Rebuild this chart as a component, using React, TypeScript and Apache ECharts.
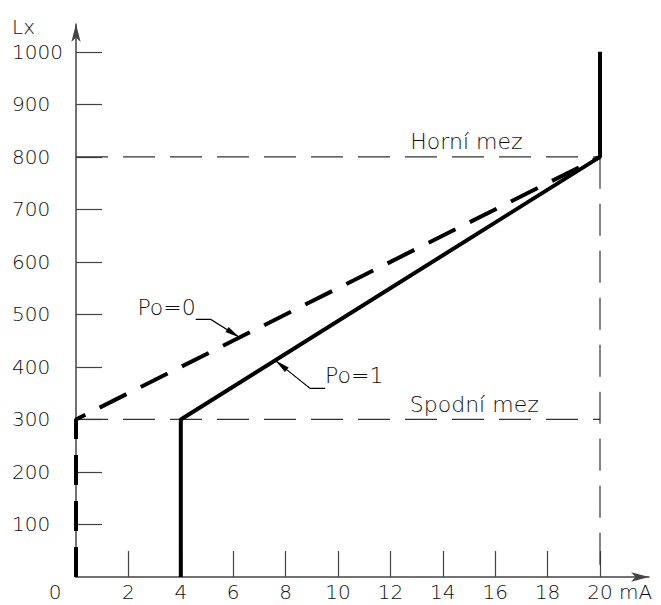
import React, { useEffect, useRef } from 'react';
import * as echarts from 'echarts';

// Axis ticks / labels
const xTickValues = [2, 4, 6, 8, 10, 12, 14, 16, 18, 20];
const yTickValues = [100, 200, 300, 400, 500, 600, 700, 800, 900, 1000];
const xMax = 21.87;
const yMax = 1053;

// Characteristic curves (x: mA, y: Lx)
const po0Line = [[0, 0], [0, 300], [20, 800]];
const po1Line = [[4, 0], [4, 300], [20, 800], [20, 1000]];

// Limit lines
const upperLimitLine = [[0, 800], [20, 800]];
const lowerLimitLine = [[0, 300], [20, 300]];
const rightLimitLine = [[20, 800], [20, 0]];

// Annotation anchors
const upperLabel = { text: 'Horní mez', at: [14.9, 800] };
const lowerLabel = { text: 'Spodní mez', at: [15.2, 300] };
const po0Pointer = { text: 'Po=0', at: [6.25, 456.25] };
const po1Pointer = { text: 'Po=1', at: [7.6, 412.5] };

const FONT = 'DejaVu Sans';
const TXT = '#111';
const AX = '#444';

export default function App() {
  const ref = useRef<HTMLDivElement>(null);
  useEffect(() => {
    if (!ref.current) return;
    const chart = echarts.init(ref.current, undefined, { renderer: 'svg' });
    const thinDash = { color: '#333', width: 1.2, type: [32, 15] as any };
    chart.setOption({
      animation: false,
      backgroundColor: '#fff',
      textStyle: { fontFamily: FONT, fontWeight: 200 },
      grid: { left: 76, right: 12, top: 24, bottom: 28 },
      xAxis: {
        type: 'value', min: 0, max: xMax, interval: 2,
        splitLine: { show: false },
        axisLine: { lineStyle: { color: AX, width: 1.5 }, symbol: ['none', 'arrow'], symbolSize: [7, 18] },
        axisTick: { show: true, inside: true, length: 26, customValues: xTickValues, lineStyle: { color: AX, width: 1.2 } },
        axisLabel: {
          customValues: xTickValues, color: TXT, fontSize: 20, lineHeight: 20, margin: 5,
          fontFamily: FONT, fontWeight: 200, formatter: (v: number) => String(v),
        },
      },
      yAxis: {
        type: 'value', min: 0, max: yMax, interval: 100,
        splitLine: { show: false },
        axisLine: { lineStyle: { color: AX, width: 1.5 }, symbol: ['none', 'arrow'], symbolSize: [7, 18] },
        axisTick: { show: true, inside: true, length: 26, customValues: yTickValues, lineStyle: { color: AX, width: 1.2 } },
        axisLabel: {
          customValues: yTickValues, color: TXT, fontSize: 20, margin: 64, align: 'left',
          fontFamily: FONT, fontWeight: 200, formatter: (v: number) => String(v),
        },
      },
      series: [
        { type: 'line', data: upperLimitLine, symbol: 'none', lineStyle: thinDash, z: 2 },
        { type: 'line', data: lowerLimitLine, symbol: 'none', lineStyle: thinDash, z: 2 },
        { type: 'line', data: rightLimitLine, symbol: 'none', lineStyle: thinDash, z: 2 },
        { type: 'line', data: po0Line, symbol: 'none', lineStyle: { color: '#000', width: 4, type: [30, 16] as any }, z: 3 },
        { type: 'line', data: po1Line, symbol: 'none', lineStyle: { color: '#000', width: 4 }, z: 4 },
      ],
    });

    const px = (p: number[]) => chart.convertToPixel({ gridIndex: 0 }, p) as number[];
    const origin = px([0, 0]);
    const x20 = px([20, 0]);
    const yTop = px([0, yMax]);
    const txt = (text: string, x: number, y: number, align: string, size = 20) => ({
      type: 'text', x, y, z: 10,
      style: { text, fill: TXT, font: `200 ${size}px "${FONT}"`, align, verticalAlign: 'middle' },
    });
    const arrowHead = (tip: number[], from: number[], len = 15, half = 3) => {
      const dx = from[0] - tip[0], dy = from[1] - tip[1];
      const d = Math.hypot(dx, dy);
      const ux = dx / d, uy = dy / d;
      const bx = tip[0] + ux * len, by = tip[1] + uy * len;
      return {
        type: 'polygon', z: 10,
        shape: { points: [tip, [bx - uy * half, by + ux * half], [bx + uy * half, by - ux * half]] },
        style: { fill: '#000' },
      };
    };
    const p0 = px(po0Pointer.at);
    const p0a = [p0[0] - 29, p0[1] - 18];
    const p0b = [p0a[0] - 15, p0a[1]];
    const p1 = px(po1Pointer.at);
    const p1a = [p1[0] + 35, p1[1] + 28];
    const p1b = [p1a[0] + 15, p1a[1]];
    const up = px(upperLabel.at);
    const lo = px(lowerLabel.at);

    chart.setOption({
      graphic: [
        txt('Lx', 12, yTop[1] + 3, 'left'),
        txt('0', origin[0] - 21, origin[1] + 15, 'center'),
        txt('mA', x20[0] + 19, x20[1] + 15, 'left'),
        txt(upperLabel.text, up[0], up[1] - 15, 'center', 22),
        txt(lowerLabel.text, lo[0], lo[1] - 15, 'center', 22),
        { type: 'polyline', z: 10, shape: { points: [p0b, p0a, p0] }, style: { stroke: '#000', lineWidth: 1.2, fill: 'none' } },
        arrowHead(p0, p0a),
        txt(po0Pointer.text, p0b[0], p0b[1] - 12, 'right', 22),
        { type: 'polyline', z: 10, shape: { points: [p1b, p1a, p1] }, style: { stroke: '#000', lineWidth: 1.2, fill: 'none' } },
        arrowHead(p1, p1a),
        txt(po1Pointer.text, p1b[0], p1b[1] - 13, 'left', 22),
      ],
    });
    return () => chart.dispose();
  }, []);
  return <div ref={ref} style={{ position: 'fixed', left: 0, top: 0, width: 661, height: 605 }} />;
}
